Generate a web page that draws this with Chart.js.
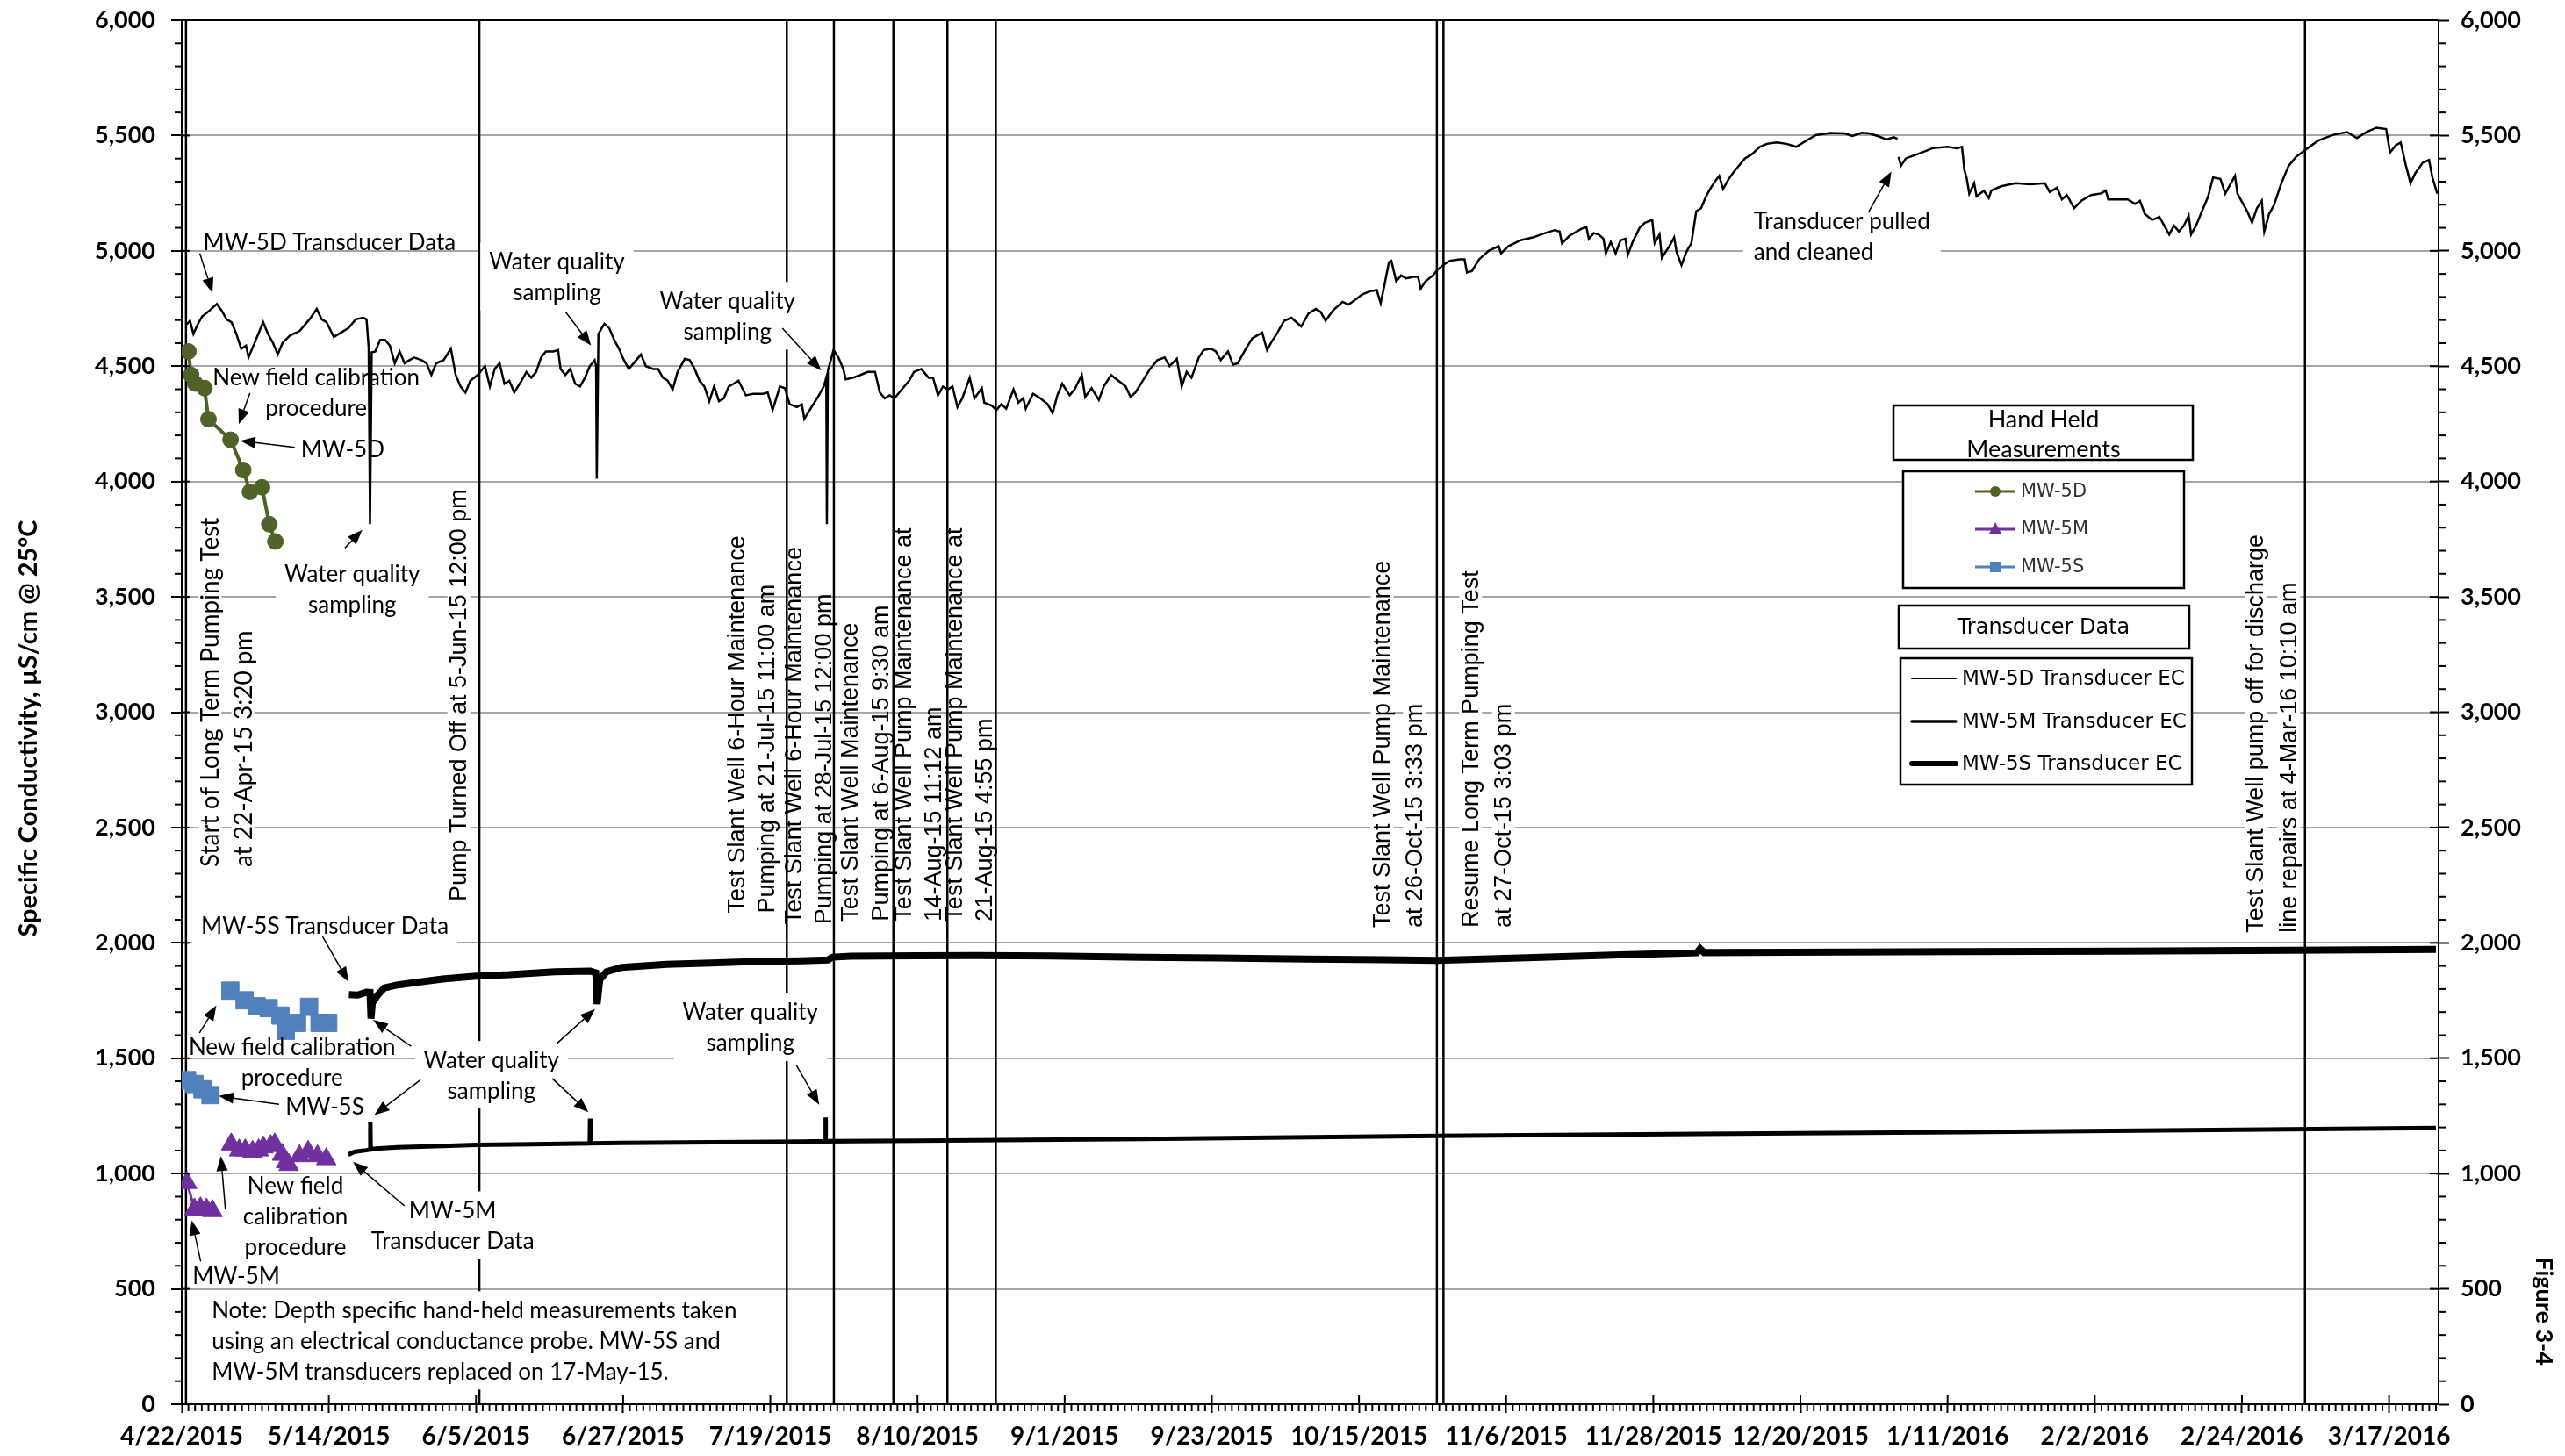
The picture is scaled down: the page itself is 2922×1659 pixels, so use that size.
<!doctype html>
<html lang="en">
<head>
<meta charset="UTF-8">
<title>Figure 3-4</title>
<style>
  html, body { margin: 0; padding: 0; background: #fff; }
  canvas { display: block; }
</style>
</head>
<body>
<canvas id="chart" width="2922" height="1659"></canvas>
<script src="https://cdn.jsdelivr.net/npm/chart.js@4.4.1/dist/chart.umd.min.js"></script>
<script>
// x values are days after 4/22/2015 00:00
const tickDays = [0, 22, 44, 66, 88, 110, 132, 154, 176, 198, 220, 242, 264, 286, 308, 330];
const tickLabels = ['4/22/2015', '5/14/2015', '6/5/2015', '6/27/2015', '7/19/2015', '8/10/2015',
  '9/1/2015', '9/23/2015', '10/15/2015', '11/6/2015', '11/28/2015', '12/20/2015',
  '1/11/2016', '2/2/2016', '2/24/2016', '3/17/2016'];

// MW-5D transducer EC (null = gap when transducer pulled)
const mw5dDays = [0.7,1.24,1.75,2.33,3.06,4.16,5.25,5.98,6.71,7.44,8.17,8.89,9.62,9.99,10.72,11.45,12.17,12.9,13.63,14.36,
  15.09,16.18,17.64,19.1,20.19,20.92,21.65,22.74,23.84,24.93,26.02,27.12,27.63,27.95,28.15,28.4,28.94,29.67,30.4,31.12,
  31.85,32.58,33.31,34.04,34.77,35.86,36.59,37.32,38.05,39.14,40.24,40.96,41.69,42.42,43.15,44.24,45.34,46.07,46.8,47.52,
  48.25,48.98,49.71,50.8,51.53,52.26,52.99,53.72,54.45,55.54,56.27,56.64,57.36,58.09,58.82,59.55,60.28,61.01,61.74,61.95,
  62.05,62.3,63.19,63.92,64.65,65.38,66.11,66.84,67.57,68.66,69.39,70.48,71.21,71.94,72.67,73.4,74.13,75.22,75.95,76.68,
  77.41,78.14,78.87,79.6,80.32,81.05,81.78,82.51,83.24,84.33,85.42,86.88,87.61,88.34,89.43,90.16,90.89,91.98,92.71,93.08,
  94.17,95.26,95.99,96.36,96.45,96.6,97.45,98.18,98.91,99.27,100.37,101.46,102.55,103.65,104.37,105.1,105.83,106.56,107.65,108.75,
  109.48,110.57,111.66,112.33,113.06,113.79,114.52,115.24,115.97,116.7,117.8,118.52,119.62,119.98,121.08,121.8,122.53,123.26,124.35,125.08,
  125.81,126.18,127.27,128.36,129.46,130.19,130.91,131.64,132.74,133.47,134.56,135.07,136.02,137.11,137.84,138.93,140.03,141.12,141.85,142.58,
  143.67,144.76,145.86,146.95,147.68,148.77,149.5,150.23,150.96,152.05,152.78,153.87,154.6,155.33,156.42,157.15,157.88,158.98,160.07,161.53,
  162.26,162.98,163.71,164.81,165.9,167.36,168.45,169.55,170.27,171.0,172.1,173.55,174.43,175.38,176.47,177.56,178.65,179.24,179.75,180.48,
  180.84,181.57,182.3,183.03,184.12,184.85,185.22,185.94,187.04,187.77,188.86,189.59,191.05,191.78,192.14,192.87,193.96,195.42,196.88,197.24,
  198.33,200.16,201.98,203.8,205.26,205.99,206.35,207.44,209.27,210.0,210.36,211.09,211.82,212.55,212.91,213.64,214.37,215.1,215.83,216.19,
  216.92,218.01,218.74,219.84,220.2,220.93,221.29,222.39,223.12,223.48,224.21,224.94,225.69,226.42,227.15,227.88,228.61,229.34,229.85,230.43,
  231.16,231.89,232.62,233.71,234.8,235.9,236.99,238.45,239.91,241.36,242.82,244.28,246.47,248.65,249.75,251.2,252.3,253.75,254.85,255.94,
  256.52,256.6,256.67,257.03,257.76,259.59,261.77,263.96,265.42,266.15,266.51,266.87,267.24,267.97,268.33,269.42,270.15,270.52,271.98,274.16,
  276.35,278.54,279.26,280.36,281.09,281.82,282.91,284.0,285.46,286.92,287.65,288.01,289.47,290.93,292.02,292.75,293.48,294.57,295.66,296.39,
  297.12,297.85,298.58,299.31,300.04,300.4,301.13,301.86,302.95,303.68,304.78,305.5,306.23,306.96,307.33,308.05,308.78,309.51,310.24,310.97,
  311.34,312.06,312.79,313.89,314.98,316.07,317.53,319.35,321.54,323.72,325.18,326.64,328.1,329.56,330.14,331.01,331.74,332.47,333.2,333.93,
  335.02,335.97,336.48,337.2];
const mw5dEC = [4680,4697,4640,4678,4716,4741,4770,4741,4703,4691,4640,4576,4589,4538,4589,4640,4691,4640,4602,4551,
  4602,4633,4653,4703,4748,4703,4691,4627,4646,4665,4703,4710,4703,4580,3815,4560,4564,4614,4614,4589,
  4513,4564,4513,4526,4538,4526,4513,4462,4513,4526,4576,4462,4412,4386,4437,4462,4500,4412,4488,4513,
  4424,4437,4386,4437,4475,4450,4475,4538,4564,4564,4570,4488,4462,4488,4424,4412,4450,4500,4526,4500,
  4012,4640,4684,4665,4614,4576,4526,4488,4513,4551,4500,4488,4488,4450,4437,4399,4475,4532,4526,4488,
  4437,4412,4348,4412,4348,4361,4412,4424,4437,4374,4380,4380,4386,4310,4412,4405,4335,4323,4335,4272,
  4323,4374,4412,4450,3815,4480,4570,4538,4488,4443,4450,4462,4475,4475,4386,4361,4374,4361,4399,4437,
  4475,4488,4450,4450,4374,4412,4399,4412,4323,4361,4450,4361,4405,4342,4329,4310,4335,4316,4399,4342,
  4361,4316,4380,4361,4335,4297,4374,4424,4374,4399,4462,4367,4405,4354,4412,4462,4437,4412,4367,4386,
  4437,4488,4526,4538,4500,4532,4412,4475,4450,4538,4570,4576,4564,4526,4564,4507,4513,4570,4621,4646,
  4570,4608,4640,4697,4710,4672,4729,4748,4735,4697,4741,4779,4767,4786,4811,4824,4830,4773,4843,4951,
  4957,4868,4893,4881,4887,4887,4836,4868,4893,4919,4944,4957,4963,4963,4906,4912,4963,5001,5020,4989,
  5020,5046,5058,5077,5090,5084,5033,5065,5096,5103,5052,5077,5071,5052,4989,5039,4989,5046,5052,4982,
  5039,5103,5122,5134,5033,5071,4970,5020,5058,4995,4938,4995,5033,5172,5185,5236,5274,5306,5325,5268,
  5306,5337,5363,5401,5420,5451,5464,5470,5464,5451,5477,5502,5511,5509,5498,5512,5509,5496,5483,5493,
  5486,null,5407,5369,5401,5420,5445,5451,5445,5451,5350,5312,5248,5293,5236,5261,5229,5261,5280,5293,
  5289,5293,5255,5274,5223,5242,5185,5217,5242,5249,5261,5223,5223,5223,5204,5217,5160,5134,5147,5109,
  5071,5109,5084,5109,5153,5071,5109,5160,5236,5318,5312,5248,5287,5325,5248,5210,5172,5122,5185,5217,
  5084,5160,5198,5293,5369,5407,5439,5477,5502,5515,5489,5515,5534,5528,5426,5458,5470,5375,5293,5337,
  5382,5394,5318,5248];

// MW-5S transducer EC
const mw5sDays = [25.0,26.3,27.6,28.15,28.3,28.5,29.3,30.3,32.3,35.7,39.0,44.0,49.0,55.8,61.1,61.9,62.1,62.5,63.5,65.8,
  72.5,79.2,85.9,92.6,96.6,97.3,100,110,119,130,143.7,155,168.2,180,187.7,200,215,226.5,227.0,227.6,240,266,290,315,337];
const mw5sEC = [1776,1774,1786,1785,1672,1740,1774,1805,1818,1831,1843,1856,1862,1875,1878,1870,1735,1840,1875,1894,
  1907,1913,1919,1922,1926,1938,1942,1944,1945,1943,1938,1935,1930,1927,1924,1935,1948,1957,1975,1958,1959,1962,1964,1968,1972];

// MW-5M transducer EC
const mw5mDays = [24.9,25.9,27.6,28.15,28.2,28.25,29.0,32.3,39.0,44.0,52.4,61.0,61.05,61.1,65.8,79.2,92.6,96.2,96.25,96.3,
  110,143.7,187.7,226.9,266,315,337];
const mw5mEC = [1082,1095,1101,1104,1222,1105,1108,1114,1120,1124,1127,1131,1238,1131,1133,1136,1139,1140,1243,1140,
  1142,1150,1163,1172,1179,1192,1198];

// hand held measurements
const hand5dDays = [1.0,1.4,2.0,3.4,4.0,7.3,9.2,10.2,12.0,13.1,14.0];
const hand5dEC = [4564,4462,4425,4405,4270,4181,4050,3955,3975,3815,3740];
const hand5mDays = [0.8,1.9,2.8,3.7,4.6,null,7.4,8.6,9.5,10.6,11.5,12.2,13.3,13.9,15.0,15.6,16.0,17.6,18.9,20.3,21.6];
const hand5mEC = [960,845,850,845,838,null,1127,1101,1101,1095,1101,1114,1120,1127,1082,1050,1038,1076,1095,1076,1063];
const hand5sDays = [0.8,1.9,3.1,4.3,null,7.26,9.4,11.2,13.0,14.76,15.56,17.24,19.05,20.6,21.9];
const hand5sEC = [1405,1388,1365,1340,null,1793,1751,1725,1717,1685,1619,1653,1723,1653,1653];

// event times (days after 4/22/2015)
const eventDays = [0.639, 44.5, 90.458, 97.5, 106.396, 114.467, 121.705, 187.648, 188.627, 317.424];

const pts = (xs, ys) => xs.map((x, i) => ({ x: x === null ? NaN : x, y: ys[i] }));

// text placed on the plot (positions in data units)
const eventLabels = [
  { t: ['Start of Long Term Pumping Test', 'at 22-Apr-15 3:20 pm'], d: [4.24, 9.13], v: 2328, font: '28px Lato', fill: true },
  { t: ['Pump Turned Off at 5-Jun-15 12:00 pm'], d: [41.43], v: 2180, fill: true },
  { t: ['Test Slant Well 6-Hour Maintenance', 'Pumping at 21-Jul-15 11:00 am'], d: [83.03, 87.44], v: 2129 },
  { t: ['Test Slant Well 6-Hour Maintenance', 'Pumping at 28-Jul-15 12:00 pm'], d: [91.6, 96.0], v: 2080 },
  { t: ['Test Slant Well Maintenance', 'Pumping at 6-Aug-15 9:30 am'], d: [99.9, 104.57], v: 2094 },
  { t: ['Test Slant Well Pump Maintenance at', '14-Aug-15 11:12 am'], d: [108.0, 112.4], v: 2094 },
  { t: ['Test Slant Well Pump Maintenance at', '21-Aug-15 4:55 pm'], d: [115.6, 120.0], v: 2094 },
  { t: ['Test Slant Well Pump Maintenance', 'at 26-Oct-15 3:33 pm'], d: [179.45, 184.3], v: 2066, fill: true },
  { t: ['Resume Long Term Pumping Test', 'at 27-Oct-15 3:03 pm'], d: [192.7, 197.6], v: 2066, fill: true },
  { t: ['Test Slant Well pump off for discharge', 'line repairs at 4-Mar-16 10:10 am'], d: [310.1, 315.0], v: 2044, fill: true }
];

const notes = [
  { t: ['MW-5D Transducer Data'], d: 22.1, v: 5036 },
  { t: ['New field calibration', 'procedure'], d: 20.1, v: 4448 },
  { t: ['MW-5D'], d: 24.06, v: 4136 },
  { t: ['Water quality', 'sampling'], d: 25.5, v: 3597, fill: true },
  { t: ['Water quality', 'sampling'], d: 56.1, v: 4951, fill: true },
  { t: ['Water quality', 'sampling'], d: 81.6, v: 4781, fill: true },
  { t: ['Transducer pulled', 'and cleaned'], d: 235.0, v: 5128, fill: true, left: true },
  { t: ['MW-5S Transducer Data'], d: 21.4, v: 2072, fill: true },
  { t: ['New field calibration', 'procedure'], d: 16.5, v: 1548 },
  { t: ['MW-5S'], d: 21.4, v: 1286 },
  { t: ['Water quality', 'sampling'], d: 46.3, v: 1491, fill: true },
  { t: ['Water quality', 'sampling'], d: 85.0, v: 1697, fill: true },
  { t: ['MW-5M', 'Transducer Data'], d: 40.5, v: 839, fill: true },
  { t: ['New field', 'calibration', 'procedure'], d: 17.0, v: 945 },
  { t: ['MW-5M'], d: 8.15, v: 555 },
  { t: ['Note: Depth specific hand-held measurements taken',
        'using an electrical conductance probe. MW-5S and',
        'MW-5M transducers replaced on 17-May-15.'], d: 4.48, v: 406, fill: true, left: true }
];

// arrows: [from day, from value, to day, to value]
const arrows = [
  [2.7, 4989, 4.6, 4818], [10.2, 4384, 8.53, 4249], [16.9, 4148, 8.75, 4177], [24.4, 3712, 27.0, 3790],
  [57.4, 4735, 61.2, 4589], [89.8, 4665, 95.6, 4481], [252.15, 5166, 255.6, 5344],
  [21.06, 2027, 24.94, 1831], [2.64, 1609, 5.18, 1729], [14.56, 1300, 5.52, 1336],
  [34.3, 1552, 28.6, 1666], [35.7, 1406, 28.8, 1254], [56.1, 1564, 61.8, 1713], [55.4, 1412, 60.8, 1266],
  [91.9, 1469, 95.3, 1298], [33.3, 860, 25.6, 1051], [6.52, 848, 5.85, 1076], [2.84, 619, 1.5, 797]
];

function drawArrow(ctx, x1, y1, x2, y2) {
  const a = Math.atan2(y2 - y1, x2 - x1), L = 17, W = 6.5;
  const bx = x2 - L * Math.cos(a), by = y2 - L * Math.sin(a);
  ctx.beginPath(); ctx.moveTo(x1, y1); ctx.lineTo(bx, by); ctx.stroke();
  ctx.beginPath();
  ctx.moveTo(x2, y2);
  ctx.lineTo(bx + W * Math.sin(a), by - W * Math.cos(a));
  ctx.lineTo(bx - W * Math.sin(a), by + W * Math.cos(a));
  ctx.closePath(); ctx.fill();
}

function line(ctx, x1, y1, x2, y2) {
  ctx.beginPath(); ctx.moveTo(x1, y1); ctx.lineTo(x2, y2); ctx.stroke();
}

// stop the tick labels from pushing the plot area around
function noPad(s) { s.paddingTop = 0; s.paddingBottom = 0; s.paddingLeft = 0; s.paddingRight = 0; }

const decor = {
  id: 'decor',
  afterDatasetsDraw(chart) {
    const ctx = chart.ctx;
    const X = d => chart.scales.x.getPixelForValue(d);
    const Y = v => chart.scales.y.getPixelForValue(v);
    ctx.save();
    eventLabels.forEach(e => {
      ctx.font = e.font || '27px "Liberation Sans"';
      e.t.forEach((txt, i) => {
        const w = ctx.measureText(txt).width;
        ctx.save();
        ctx.translate(X(e.d[i]), Y(e.v));
        ctx.rotate(-Math.PI / 2);
        if (e.fill) { ctx.fillStyle = '#fff'; ctx.fillRect(-3, -13, w + 6, 26); }
        ctx.fillStyle = '#000'; ctx.textAlign = 'left'; ctx.textBaseline = 'middle';
        ctx.fillText(txt, 0, 1);
        ctx.restore();
      });
    });
    ctx.font = '26px Lato';
    const lh = 35;
    notes.forEach(n => {
      const x = X(n.d), y0 = Y(n.v);
      const w = Math.max(...n.t.map(s => ctx.measureText(s).width));
      if (n.fill) {
        ctx.fillStyle = '#fff';
        const left = n.left ? x - 12 : x - w / 2 - 10;
        ctx.fillRect(left, y0 - 22, w + (n.left ? 24 : 20), (n.t.length - 1) * lh + 42);
      }
      ctx.fillStyle = '#000';
      ctx.textAlign = n.left ? 'left' : 'center';
      ctx.textBaseline = 'middle';
      n.t.forEach((s, i) => ctx.fillText(s, x, y0 + i * lh));
    });
    ctx.strokeStyle = '#000'; ctx.fillStyle = '#000'; ctx.lineWidth = 1.5;
    arrows.forEach(a => drawArrow(ctx, X(a[0]), Y(a[1]), X(a[2]), Y(a[3])));
    ctx.restore();
  },
  afterDraw(chart) {
    const ctx = chart.ctx, ca = chart.chartArea;
    const X = d => chart.scales.x.getPixelForValue(d);
    const Y = v => chart.scales.y.getPixelForValue(v);
    ctx.save();
    ctx.strokeStyle = '#000'; ctx.lineWidth = 2;
    line(ctx, ca.left, ca.top, ca.right, ca.top);
    for (let d = 1; d < chart.scales.x.max; d++) {
      if (!tickDays.includes(d)) line(ctx, X(d), ca.bottom, X(d), ca.bottom + 8);
    }
    tickDays.forEach(d => line(ctx, X(d), ca.bottom - 10, X(d), ca.bottom));
    for (let v = 100; v < 6000; v += 100) {
      const y = Y(v);
      if (v % 500) {
        line(ctx, ca.left - 8, y, ca.left, y);
        line(ctx, ca.right, y, ca.right + 8, y);
      } else {
        line(ctx, ca.left, y, ca.left + 10, y);
        line(ctx, ca.right - 10, y, ca.right, y);
      }
    }
    // axis title
    ctx.fillStyle = '#000';
    ctx.font = 'bold 29px Lato';
    ctx.textAlign = 'center'; ctx.textBaseline = 'middle';
    ctx.save(); ctx.translate(33, 830); ctx.rotate(-Math.PI / 2);
    ctx.fillText('Specific Conductivity, µS/cm @ 25°C', 0, 0); ctx.restore();
    ctx.save(); ctx.translate(2898, 1494); ctx.rotate(Math.PI / 2);
    ctx.font = 'bold 27px Lato';
    ctx.fillText('Figure 3-4', 0, 0); ctx.restore();

    // legend boxes
    ctx.lineWidth = 2.5;
    ctx.fillStyle = '#fff';
    [[2157, 462, 341, 62], [2168, 537, 320, 133], [2163, 690, 331, 49], [2165, 750, 332, 144]].forEach(b => {
      ctx.fillRect(b[0], b[1], b[2], b[3]); ctx.strokeRect(b[0], b[1], b[2], b[3]);
    });
    ctx.fillStyle = '#000';
    ctx.font = '27px Lato';
    ctx.fillText('Hand Held', 2328, 478);
    ctx.fillText('Measurements', 2328, 512);
    ctx.font = '24px "DejaVu Sans"';
    ctx.fillText('Transducer Data', 2328, 716);

    const hh = [['MW-5D', '#4F6228', 'circle', 560], ['MW-5M', '#7030A0', 'triangle', 603], ['MW-5S', '#4F81BD', 'rect', 646]];
    hh.forEach(h => {
      ctx.strokeStyle = h[1]; ctx.fillStyle = h[1]; ctx.lineWidth = 3;
      line(ctx, 2250, h[3], 2295, h[3]);
      ctx.beginPath();
      if (h[2] === 'circle') ctx.arc(2273, h[3], 6, 0, Math.PI * 2);
      else if (h[2] === 'triangle') { ctx.moveTo(2273, h[3] - 8); ctx.lineTo(2280, h[3] + 5); ctx.lineTo(2266, h[3] + 5); ctx.closePath(); }
      else ctx.rect(2267, h[3] - 6, 12, 12);
      ctx.fill();
      ctx.fillStyle = '#333'; ctx.font = '21px "DejaVu Sans"'; ctx.textAlign = 'left';
      ctx.fillText(h[0], 2302, h[3] + 1);
    });
    const td = [['MW-5D Transducer EC', 2, 773], ['MW-5M Transducer EC', 3.5, 822], ['MW-5S Transducer EC', 6, 870]];
    ctx.lineCap = 'round';
    td.forEach(t => {
      ctx.strokeStyle = '#000'; ctx.lineWidth = t[1];
      line(ctx, 2178, t[2], 2228, t[2]);
      ctx.fillStyle = '#000'; ctx.font = '23px "DejaVu Sans"'; ctx.textAlign = 'left';
      ctx.fillText(t[0], 2235, t[2] + 1);
    });
    ctx.restore();
  }
};

function build() {
  Chart.defaults.font.family = 'Lato';
  Chart.defaults.color = '#000';
  const datasets = [
    { data: pts(hand5dDays, hand5dEC), borderColor: '#4F6228', backgroundColor: '#4F6228', borderWidth: 4,
      pointStyle: 'circle', pointRadius: 9, pointBorderWidth: 1 },
    { data: pts(hand5mDays, hand5mEC), borderColor: '#7030A0', backgroundColor: '#7030A0', borderWidth: 3,
      pointStyle: 'triangle', pointRadius: 13, pointBorderWidth: 1 },
    { data: pts(hand5sDays, hand5sEC), borderColor: '#4F81BD', backgroundColor: '#4F81BD', borderWidth: 3,
      pointStyle: 'rect', pointRadius: 14, pointBorderWidth: 1 },
    { data: pts(mw5dDays, mw5dEC), borderColor: '#000', borderWidth: 2.5, pointRadius: 0 },
    { data: pts(mw5mDays, mw5mEC), borderColor: '#000', borderWidth: 5, pointRadius: 0 },
    { data: pts(mw5sDays, mw5sEC), borderColor: '#000', borderWidth: 8, pointRadius: 0 }
  ];
  eventDays.forEach(d => datasets.push({
    data: [{ x: d, y: 0 }, { x: d, y: 6000 }], borderColor: '#000', borderWidth: 2.5, pointRadius: 0
  }));

  new Chart(document.getElementById('chart'), {
    type: 'line',
    data: { datasets },
    options: {
      responsive: false,
      animation: false,
      devicePixelRatio: 1,
      spanGaps: false,
      layout: { padding: { top: 23, right: 0, bottom: 0, left: 0 } },
      plugins: { legend: { display: false }, tooltip: { enabled: false } },
      elements: { line: { tension: 0 } },
      scales: {
        x: {
          type: 'linear', min: 0, max: 337.4, position: 'bottom',
          afterBuildTicks: s => { s.ticks = tickDays.map(v => ({ value: v })); },
          afterFit: s => { s.height = 59; noPad(s); },
          ticks: { callback: (v, i) => tickLabels[i], autoSkip: false, maxRotation: 0,
                   font: { family: 'Lato', weight: 'bold', size: 28 }, color: '#000', padding: 10 },
          grid: { drawOnChartArea: false, tickLength: 10, tickColor: '#000', tickWidth: 2 },
          border: { color: '#000', width: 2 }
        },
        y: {
          type: 'linear', min: 0, max: 6000, position: 'left',
          afterFit: s => { s.width = 207; noPad(s); },
          ticks: { stepSize: 500, callback: v => v.toLocaleString('en-US'),
                   font: { family: 'Lato', weight: 'bold', size: 27 }, color: '#000', padding: 18 },
          grid: { color: '#a6a6a6', lineWidth: 2, tickLength: 12, tickColor: '#000', tickWidth: 2 },
          border: { color: '#000', width: 2 }
        },
        y2: {
          type: 'linear', axis: 'y', min: 0, max: 6000, position: 'right',
          afterFit: s => { s.width = 144; noPad(s); },
          ticks: { stepSize: 500, callback: v => v.toLocaleString('en-US'),
                   font: { family: 'Lato', weight: 'bold', size: 27 }, color: '#000', padding: 13 },
          grid: { drawOnChartArea: false, tickLength: 12, tickColor: '#000', tickWidth: 2 },
          border: { color: '#000', width: 2 }
        }
      }
    },
    plugins: [decor]
  });
}

Promise.all([
  document.fonts.load('26px Lato'), document.fonts.load('bold 27px Lato'),
  document.fonts.load('26px "Liberation Sans"'), document.fonts.load('20px "DejaVu Sans"')
]).then(build, build);
</script>
</body>
</html>
